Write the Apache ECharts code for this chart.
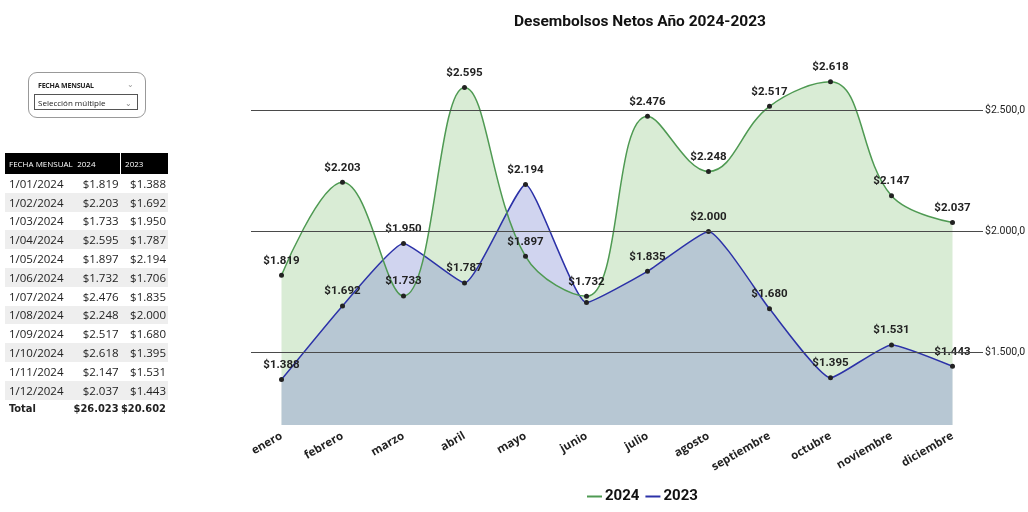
<!DOCTYPE html>
<html>
<head>
<meta charset="utf-8">
<script src="https://cdn.jsdelivr.net/npm/echarts@6/dist/echarts.min.js"></script>
<style>
  html, body { margin: 0; padding: 0; background: #fff; }
  #chart { position: absolute; left: 0; top: 0; width: 1028px; height: 512px; }
  #panel { position: absolute; left: 0; top: 0; font-family: 'Open Sans', sans-serif; color: #222; }
  .slicer { position: absolute; left: 28px; top: 72px; width: 116px; height: 44px; border: 1px solid #999; border-radius: 9px; background: #fff; }
  .slicer .t { position: absolute; left: 9px; top: 8px; font-size: 7px; font-weight: 700; letter-spacing: -0.2px; }
  .slicer .c1 { position: absolute; right: 11px; top: 5px; font-size: 8px; color: #999; }
  .slicer .box { position: absolute; left: 5px; top: 21px; height: 16px; width: 104px; border: 1px solid #555; font-size: 8px; line-height: 16px; padding-left: 3px; box-sizing: border-box; }
  .slicer .box span { position: absolute; right: 5px; top: 0; color: #888; }
  table { position: absolute; left: 5px; top: 153px; border-collapse: collapse; font-size: 11.5px; width: 163px; }
  th { background: #000; color: #fff; font-weight: 400; font-size: 8px; text-align: left; height: 21px; padding: 0 0 0 4px; white-space: nowrap; }
  th.sep { border-left: 1px solid #fff; }
  td { height: 18.8px; padding: 0; white-space: nowrap; }
  td.d { padding-left: 4px; }
  td.n { text-align: right; padding-right: 2px; }
  tr.g td { background: #eeeeee; }
  tr.tot td { font-weight: 700; font-family: 'DejaVu Sans Condensed', sans-serif; font-size: 11px; }
</style>
</head>
<body>
<div id="chart"></div>
<div id="panel">
  <div class="slicer">
    <div class="t">FECHA MENSUAL</div><div class="c1">&#8964;</div>
    <div class="box">Selección múltiple<span>&#8964;</span></div>
  </div>
  <table id="tbl"></table>
</div>
<script>
// meses del eje
const months = ['enero', 'febrero', 'marzo', 'abril', 'mayo', 'junio', 'julio', 'agosto', 'septiembre', 'octubre', 'noviembre', 'diciembre'];
const tableDates = ['1/01/2024', '1/02/2024', '1/03/2024', '1/04/2024', '1/05/2024', '1/06/2024', '1/07/2024', '1/08/2024', '1/09/2024', '1/10/2024', '1/11/2024', '1/12/2024'];
const values2024 = [1819, 2203, 1733, 2595, 1897, 1732, 2476, 2248, 2517, 2618, 2147, 2037];
const values2023 = [1388, 1692, 1950, 1787, 2194, 1706, 1835, 2000, 1680, 1395, 1531, 1443];
const totals = ['$26.023', '$20.602'];
const gridValues = [1500, 2000, 2500];
// etiqueta de 2023 que no se ve en el original (junio, tapada por la de 2024)
const hidden2023 = [5];

const green = '#4f9a53';
const blue = '#2c32a8';
const smooth2024 = 0.4;
const smooth2023 = 0.15;

function money(v) {
  return '$' + String(v).replace(/\B(?=(\d{3})+(?!\d))/g, '.');
}

// tabla de la izquierda
let html = '<tr><th>FECHA MENSUAL</th><th>2024</th><th class="sep">2023</th></tr>';
tableDates.forEach((d, i) => {
  html += '<tr class="' + (i % 2 ? 'g' : '') + '"><td class="d">' + d + '</td><td class="n">' + money(values2024[i]) +
          '</td><td class="n">' + money(values2023[i]) + '</td></tr>';
});
html += '<tr class="tot"><td class="d">Total</td><td class="n">' + totals[0] + '</td><td class="n">' + totals[1] + '</td></tr>';
document.getElementById('tbl').innerHTML = html;

let myChart = echarts.init(document.getElementById('chart'));

let labelStyle = {
  show: true,
  position: 'top',
  distance: 6,
  color: '#222',
  fontFamily: 'Roboto',
  fontWeight: 'bold',
  fontSize: 11.5,
  formatter: p => money(p.value)
};

// primero las áreas, luego las líneas con puntos y etiquetas encima
function areaSeries(name, data, fill, smooth, z) {
  return {
    name: name,
    type: 'line',
    data: data,
    smooth: smooth,
    symbol: 'none',
    silent: true,
    lineStyle: { width: 0, opacity: 0 },
    areaStyle: { color: fill, opacity: 1 },
    z: z
  };
}

myChart.setOption({
  animation: false,
  title: {
    text: 'Desembolsos Netos Año 2024-2023',
    left: 635,
    textAlign: 'center',
    top: 9,
    textStyle: { fontFamily: 'Roboto', fontWeight: 'bold', fontSize: 15.5, color: '#111' }
  },
  legend: {
    bottom: 3,
    left: 582,
    itemWidth: 15,
    itemHeight: 2,
    itemGap: 6,
    icon: 'rect',
    textStyle: { fontFamily: 'Roboto', fontWeight: 'bold', fontSize: 15, color: '#111', padding: [0, 0, 0, -2] },
    data: [
      { name: '2024', itemStyle: { color: green } },
      { name: '2023', itemStyle: { color: blue } }
    ]
  },
  grid: { left: 251, width: 732, top: 62, bottom: 87 },
  xAxis: {
    type: 'category',
    data: months,
    boundaryGap: true,
    axisLine: { show: false },
    axisTick: { show: false },
    axisLabel: {
      rotate: 30,
      margin: 10,
      color: '#222',
      fontFamily: 'Open Sans',
      fontWeight: 'bold',
      fontSize: 11.5
    }
  },
  yAxis: {
    type: 'value',
    min: 1200,
    max: 2700,
    axisLabel: { show: false },
    splitLine: { show: false },
    axisLine: { show: false },
    axisTick: { show: false }
  },
  series: [
    areaSeries('area2024', values2024, 'rgb(217,236,213)', smooth2024, 1),
    areaSeries('area2023', values2023, 'rgba(119,133,210,0.35)', smooth2023, 2),
    {
      name: '2024',
      type: 'line',
      data: values2024,
      smooth: smooth2024,
      symbol: 'circle',
      symbolSize: 5,
      itemStyle: { color: '#222' },
      lineStyle: { color: green, width: 1.5 },
      label: labelStyle,
      z: 4,
      markLine: {
        silent: true,
        symbol: 'none',
        lineStyle: { color: '#4a4a4a', width: 1, type: 'solid' },
        label: {
          position: 'end',
          distance: 2,
          color: '#222',
          fontFamily: 'Roboto',
          fontSize: 10.5,
          formatter: p => money(p.value) + ',0'
        },
        data: gridValues.map(v => ({ yAxis: v }))
      }
    }, {
      name: '2023',
      type: 'line',
      data: values2023.map((v, i) => hidden2023.includes(i) ? { value: v, label: { show: false } } : v),
      smooth: smooth2023,
      symbol: 'circle',
      symbolSize: 5,
      itemStyle: { color: '#222' },
      lineStyle: { color: blue, width: 1.5 },
      label: labelStyle,
      z: 3
    }
  ]
});
</script>
</body>
</html>
